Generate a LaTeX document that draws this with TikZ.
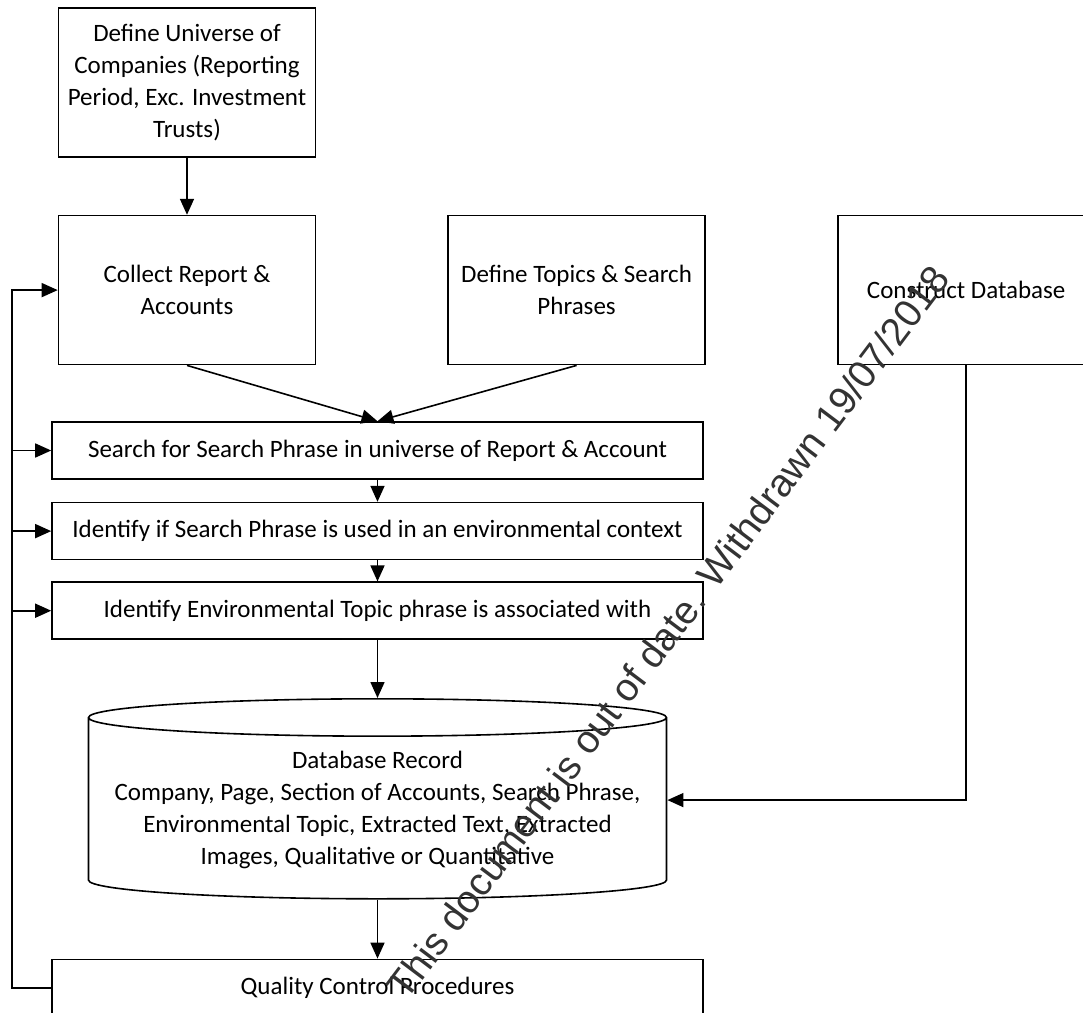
\documentclass[tikz,border=0pt]{standalone}
\usepackage{fontspec}
\setmainfont{Carlito}
\newfontfamily\markfont{Liberation Sans}
\usepackage{tikz}
\usetikzlibrary{positioning, shapes.geometric, arrows.meta}

\tikzset{
  box/.style={draw, thick, rectangle, align=center, minimum width=128.5pt, minimum height=74.5pt, inner sep=2pt},
  wide/.style={draw, thick, rectangle, align=center, minimum width=325.5pt, minimum height=28.5pt, inner sep=2pt},
  store/.style={draw, thick, cylinder, shape border rotate=90, aspect=0.07, align=center, minimum width=289pt, minimum height=100pt, inner sep=2pt},
}

\begin{document}
\begin{tikzpicture}[x=0.5pt, y=-0.5pt, >={Triangle[length=8pt, width=7pt]}, font=\fontsize{12.5}{16}\selectfont]
\useasboundingbox (0,0) rectangle (1083,1013);
\clip (0,0) rectangle (1083,1013);

% top row
\node[box] (universe) at (187,82.5) {Define Universe of\\Companies (Reporting\\Period, Exc. Investment\\Trusts)};
\node[box, below=28.5pt of universe] (collect) {Collect Report \&\\Accounts};
\node[box, right=65.5pt of collect] (topics) {Define Topics \& Search\\Phrases};
\node[box, right=65.5pt of topics] (construct) {Construct Database};

% search steps
\node[wide] (search) at (377.5,450.5) {Search for Search Phrase in universe of Report \& Account};
\node[wide, below=11pt of search] (ident) {Identify if Search Phrase is used in an environmental context};
\node[wide, below=10.5pt of ident] (env) {Identify Environmental Topic phrase is associated with};
\node[store, below=29pt of env] (record) {Database Record\\Company, Page, Section of Accounts, Search Phrase,\\Environmental Topic, Extracted Text, Extracted\\Images, Qualitative or Quantitative};
\node[wide, below=29.5pt of record] (qc) {Quality Control Procedures};

\coordinate (back) at (12,0);

\draw[->, thick] (universe) -- (collect);
\draw[->, thick] (collect.south) -- (search.north);
\draw[->, thick] (topics.south) -- (search.north);
\draw[->, thick] (search) -- (ident);
\draw[->, thick] (ident) -- (env);
\draw[->, thick] (env) -- (record);
\draw[->, thick] (record) -- (qc);
\draw[->, thick] (construct.south) |- ([yshift=5pt]record.east);

% feedback loop
\draw[->, thick] (qc.west) -- (qc.west -| back) |- (collect.west);
\foreach \step in {search, ident, env}
  \draw[->, thick] (\step.west -| back) -- (\step.west);

\node[rotate=53, text=black!80, font=\markfont\fontsize{19.5}{24}\selectfont] (stamp) at (668,632) {This document is out of date. Withdrawn 19/07/2018};
\end{tikzpicture}
\end{document}
